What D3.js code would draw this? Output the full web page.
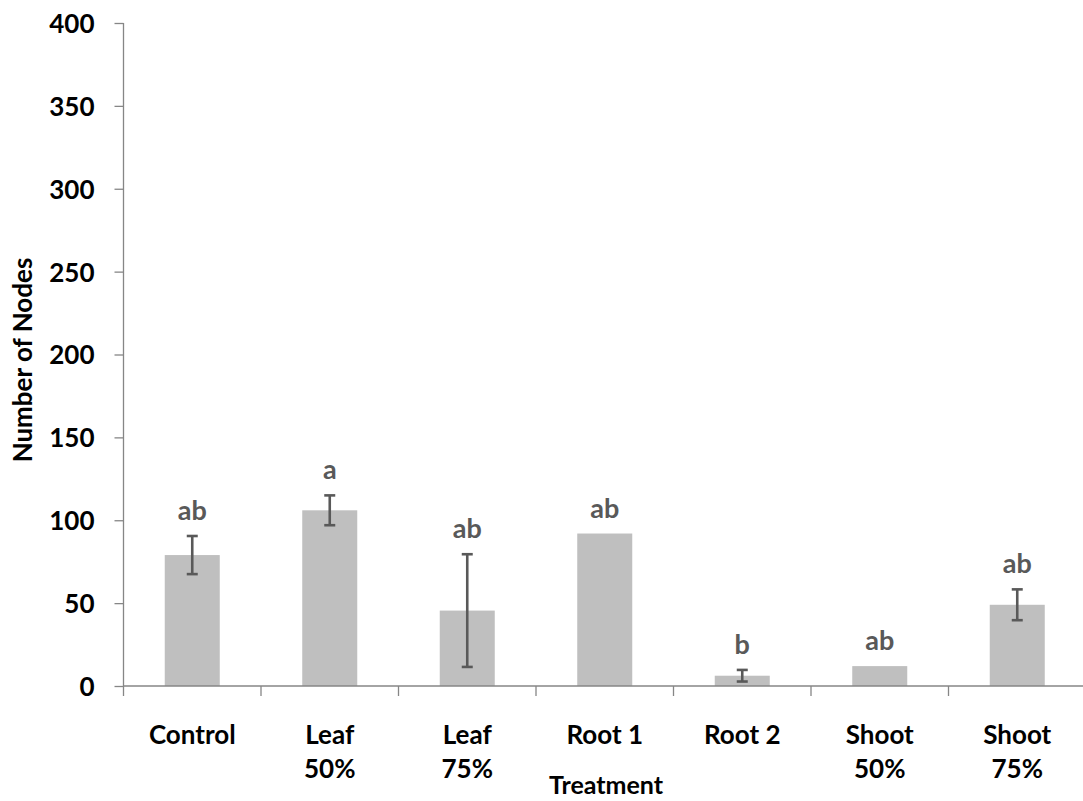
<!DOCTYPE html>
<html>
<head>
<meta charset="utf-8">
<script src="https://cdn.jsdelivr.net/npm/d3@7"></script>
<style>
  html, body { margin: 0; padding: 0; background: #fff; }
  svg { display: block; }
  text { font-family: Lato, "Open Sans", sans-serif; font-weight: bold; }
</style>
</head>
<body>
<svg id="chart" width="1083" height="801"></svg>
<script>
// Treatment groups (two-line labels) and their mean node counts
const categories = ["Control", "Leaf 50%", "Leaf 75%", "Root 1", "Root 2", "Shoot 50%", "Shoot 75%"];
const labelLines = [["Control"], ["Leaf", "50%"], ["Leaf", "75%"], ["Root 1"], ["Root 2"], ["Shoot", "50%"], ["Shoot", "75%"]];
const means = [79, 106, 45.5, 92, 6.2, 12, 49];
const errors = [11.5, 9, 34, 0, 3.5, 0, 9.3];
const letters = ["ab", "a", "ab", "ab", "b", "ab", "ab"];
const yTicks = [0, 50, 100, 150, 200, 250, 300, 350, 400];

const svg = d3.select("#chart");
const plotLeft = 123.5, plotRight = 1086, plotTop = 23, plotBottom = 686;

const x = d3.scaleBand()
  .domain(categories)
  .range([plotLeft, plotRight])
  .paddingInner(0.6)
  .paddingOuter(0.3);

const y = d3.scaleLinear().domain([0, 400]).range([plotBottom, plotTop]);

const axisColor = "#868686";

// Y axis
const yAxis = svg.append("g")
  .attr("transform", `translate(${plotLeft},0)`)
  .call(d3.axisLeft(y).tickValues(yTicks).tickSize(9).tickPadding(20));
yAxis.selectAll("path, line").attr("stroke", axisColor).attr("stroke-width", 1.3);
yAxis.select(".domain").attr("d", `M0,${plotTop}V${plotBottom}`);
yAxis.selectAll("text")
  .attr("fill", "#000")
  .style("font-size", "26px")
  .style("font-family", "Lato, sans-serif")
  .style("font-weight", "bold")
  .attr("dy", "0.36em");

// Bars
svg.append("g").selectAll("rect")
  .data(categories)
  .join("rect")
  .attr("x", d => x(d))
  .attr("width", x.bandwidth())
  .attr("y", (d, i) => y(means[i]))
  .attr("height", (d, i) => y(0) - y(means[i]))
  .attr("fill", "#bfbfbf");

// Error bars
const errColor = "#595959";
const eg = svg.append("g");
categories.forEach((c, i) => {
  if (!errors[i]) return;
  const cx = x(c) + x.bandwidth() / 2;
  const hi = y(means[i] + errors[i]);
  const lo = y(means[i] - errors[i]);
  eg.append("line").attr("x1", cx).attr("x2", cx).attr("y1", hi).attr("y2", lo)
    .attr("stroke", errColor).attr("stroke-width", 2.6);
  [hi, lo].forEach(v => {
    eg.append("line").attr("x1", cx - 5.5).attr("x2", cx + 5.5).attr("y1", v).attr("y2", v)
      .attr("stroke", errColor).attr("stroke-width", 2.6);
  });
});

// Significance letters
svg.append("g").selectAll("text")
  .data(categories)
  .join("text")
  .attr("x", d => x(d) + x.bandwidth() / 2)
  .attr("y", (d, i) => y(means[i] + errors[i]) - 16)
  .attr("text-anchor", "middle")
  .attr("fill", "#595959")
  .style("font-size", "27px")
  .text((d, i) => letters[i]);

// X axis line and boundary ticks
const xg = svg.append("g");
xg.append("line").attr("x1", plotLeft).attr("x2", plotRight).attr("y1", plotBottom).attr("y2", plotBottom)
  .attr("stroke", axisColor).attr("stroke-width", 1.3);
const step = x.step();
d3.range(categories.length + 1).forEach(k => {
  const bx = plotLeft + k * step;
  xg.append("line").attr("x1", bx).attr("x2", bx).attr("y1", plotBottom).attr("y2", plotBottom + 10)
    .attr("stroke", axisColor).attr("stroke-width", 1.3);
});

// Category labels
const lab = svg.append("g");
categories.forEach((c, i) => {
  const cx = x(c) + x.bandwidth() / 2;
  const t = lab.append("text")
    .attr("x", cx)
    .attr("y", 744)
    .attr("text-anchor", "middle")
    .attr("fill", "#000")
    .style("font-size", "26px");
  labelLines[i].forEach((line, j) => {
    t.append("tspan").attr("x", cx).attr("dy", j === 0 ? 0 : 34).text(line);
  });
});

// Axis titles
svg.append("text")
  .attr("x", 606).attr("y", 794)
  .attr("text-anchor", "middle")
  .attr("fill", "#000")
  .style("font-size", "25px")
  .text("Treatment");

svg.append("text")
  .attr("transform", "translate(32,360) rotate(-90)")
  .attr("text-anchor", "middle")
  .attr("fill", "#000")
  .style("font-size", "26px")
  .text("Number of Nodes");
</script>
</body>
</html>
